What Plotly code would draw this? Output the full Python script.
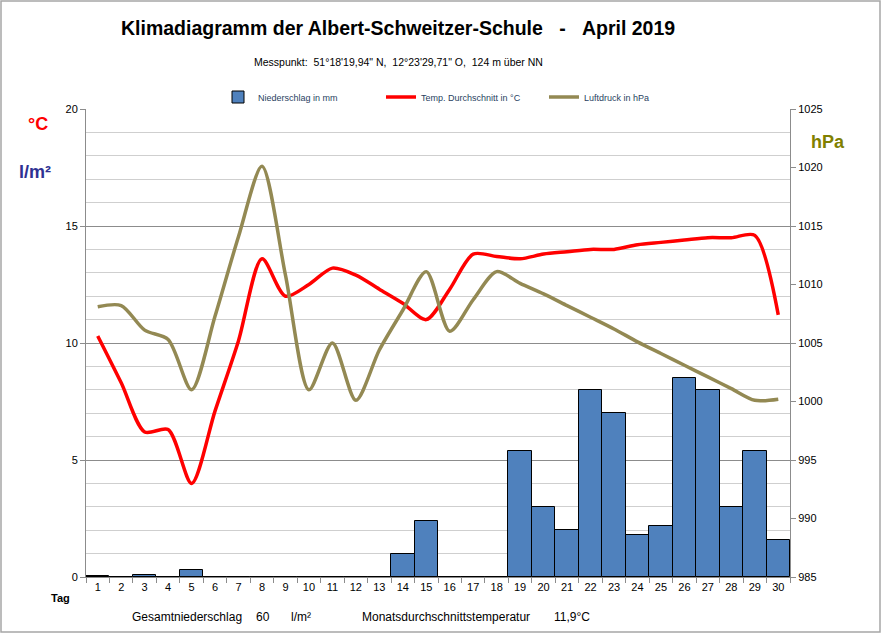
import plotly.graph_objects as go

days = [str(d) for d in range(1, 31)]
niederschlag = [0.05, 0, 0.1, 0, 0.3, 0, 0, 0, 0, 0, 0, 0, 0, 1.0, 2.4, 0, 0, 0,
                5.4, 3.0, 2.0, 8.0, 7.0, 1.8, 2.2, 8.5, 8.0, 3.0, 5.4, 1.6]
temperatur = [10.3, 8.3, 6.2, 6.3, 4.0, 7.1, 10.1, 13.6, 12.0, 12.5, 13.2, 12.9,
              12.3, 11.7, 11.0, 12.3, 13.8, 13.7, 13.6, 13.8, 13.9, 14.0, 14.0,
              14.2, 14.3, 14.4, 14.5, 14.5, 14.6, 11.2]
luftdruck = [1008.1, 1008.2, 1006.1, 1005.3, 1001.0, 1007.3, 1014.1, 1020.1,
             1010.8, 1001.0, 1005.0, 1000.1, 1004.4, 1007.8, 1011.1, 1006.0,
             1008.7, 1011.1, 1010.1, 1009.2, 1008.2, 1007.2, 1006.2, 1005.1,
             1004.1, 1003.1, 1002.1, 1001.1, 1000.1, 1000.2]
left_ticks = [0, 5, 10, 15, 20]
right_ticks = [985, 990, 995, 1000, 1005, 1010, 1015, 1020, 1025]

W, H = 883, 636
L, R, T, B = 86, 790, 109, 577
FONT = "Liberation Sans, Arial, sans-serif"


def px(x, y):
    return (x - L) / (R - L), (B - y) / (B - T)


fig = go.Figure()
fig.add_trace(go.Bar(x=days, y=niederschlag, name="Niederschlag in mm",
                     marker=dict(color="#4F81BD", line=dict(color="#000000", width=1)),
                     yaxis="y"))
fig.add_trace(go.Scatter(x=days, y=temperatur, name="Temp. Durchschnitt in °C",
                         mode="lines", line=dict(color="#FF0000", width=3.5, shape="spline", smoothing=0.8),
                         yaxis="y"))
fig.add_trace(go.Scatter(x=days, y=luftdruck, name="Luftdruck in hPa",
                         mode="lines", line=dict(color="#938953", width=3.5, shape="spline", smoothing=0.8),
                         yaxis="y2"))

annotations = []


def txt(x, y, s, size=11, color="#000000", bold=False, anchor="center"):
    xx, yy = px(x, y)
    if bold:
        s = "<b>" + s + "</b>"
    annotations.append(dict(x=xx, y=yy, xref="paper", yref="paper", text=s, showarrow=False,
                            xanchor=anchor, yanchor="middle",
                            font=dict(size=size, color=color, family=FONT)))


txt(398, 28, "Klimadiagramm der Albert-Schweitzer-Schule &nbsp;&nbsp;- &nbsp;&nbsp;April 2019", size=19.5, bold=True)
txt(398, 62, "Messpunkt:  51°18'19,94\" N,  12°23'29,71\" O,  124 m über NN", size=10.5)
txt(38, 124, "°C", size=18, color="#FF0000", bold=True)
txt(35, 172, "l/m²", size=18, color="#2E3192", bold=True)
txt(828, 142, "hPa", size=18, color="#808000", bold=True)
txt(60, 598, "Tag", size=11, bold=True)
txt(130, 617, "Gesamtniederschlag", size=12, anchor="left")
txt(263, 617, "60", size=12)
txt(301, 617, "l/m²", size=12)
txt(360, 617, "Monatsdurchschnittstemperatur", size=12, anchor="left")
txt(572, 617, "11,9°C", size=12)

x0, y0 = px(1, 632)
x1, y1 = px(880, 1)

fig.update_layout(
    width=W, height=H,
    margin=dict(l=L, r=W - R, t=T, b=H - B, pad=0, autoexpand=False),
    paper_bgcolor="white", plot_bgcolor="white",
    bargap=0,
    showlegend=True,
    legend=dict(orientation="h", x=px(218, 0)[0], xanchor="left", y=px(0, 97)[1], yanchor="middle",
                font=dict(size=9, family=FONT), entrywidth=118, itemwidth=30,
                bgcolor="rgba(0,0,0,0)"),
    annotations=annotations,
    shapes=[dict(type="rect", xref="paper", yref="paper", x0=x0, y0=y0, x1=x1, y1=y1,
                 line=dict(color="#a6a6a6", width=1.5), layer="below")],
    xaxis=dict(type="category", tickson="boundaries", ticks="outside", ticklen=5,
               tickcolor="#8c8c8c", showline=True, linecolor="#8c8c8c", linewidth=1,
               showgrid=False, tickfont=dict(size=11, family=FONT, color="#000000"),
               range=[-0.5, 29.5]),
    yaxis=dict(range=[0, 20], tickvals=left_ticks, ticks="outside", ticklen=5, tickcolor="#8c8c8c",
               showline=True, linecolor="#8c8c8c", linewidth=1, zeroline=False,
               showgrid=True, gridcolor="#8c8c8c", gridwidth=1,
               minor=dict(dtick=1, showgrid=True, gridcolor="#cfcfcf", gridwidth=1, ticks=""),
               tickfont=dict(size=11, family=FONT, color="#000000")),
    yaxis2=dict(range=[985, 1025], tickvals=right_ticks, overlaying="y", side="right",
                ticks="outside", ticklen=5, tickcolor="#8c8c8c", showline=True,
                linecolor="#8c8c8c", linewidth=1, showgrid=False, zeroline=False,
                tickfont=dict(size=11, family=FONT, color="#000000")),
)

fig.write_html("out.html", config={"displayModeBar": False},
               post_script="document.body.style.margin='0px';document.body.style.overflow='hidden';")
